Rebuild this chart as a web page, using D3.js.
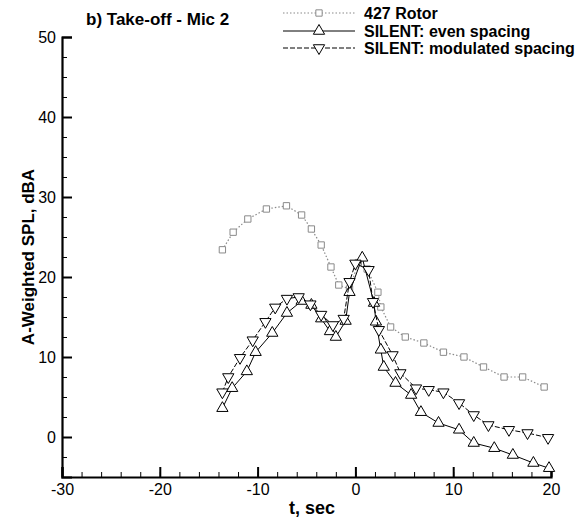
<!DOCTYPE html>
<html>
<head>
<meta charset="utf-8">
<script src="https://cdn.jsdelivr.net/npm/d3@7"></script>
<style>
  body { margin: 0; background: white; }
  text { font-family: "Liberation Sans", Arial, Helvetica, sans-serif; }
</style>
</head>
<body>
<div id="chart"></div>
<script>
// values
let rotorT = [-13.6, -12.5, -11.0, -9.1, -7.05, -5.5, -4.5, -3.5, -2.5, -1.7, -0.6, 0.3, 1.2, 2.3, 2.6, 3.6, 5.1, 7.0, 9.0, 11.1, 13.1, 15.2, 17.1, 19.3];
let rotorV = [23.4, 25.6, 27.25, 28.5, 28.9, 27.75, 26.0, 24.0, 21.25, 19.0, 18.5, 21.8, 21.0, 18.1, 16.25, 13.75, 12.5, 11.75, 10.6, 10.0, 8.75, 7.5, 7.5, 6.25];

let evenT = [-13.6, -12.6, -11.1, -10.2, -8.5, -7.0, -5.5, -4.5, -3.5, -2.6, -2.0, -1.0, -0.6, 0.7, 1.9, 2.1, 2.6, 2.9, 4.1, 5.7, 6.7, 8.5, 10.6, 12.1, 14.2, 16.1, 18.2, 19.8];
let evenV = [3.6, 6.1, 8.2, 10.6, 13.0, 15.5, 17.0, 16.5, 14.8, 13.2, 12.5, 14.5, 18.1, 22.4, 16.75, 14.4, 10.9, 8.75, 6.75, 5.25, 3.1, 1.75, 0.9, -0.75, -1.4, -2.25, -3.25, -3.9];

let modT = [-13.6, -13.0, -11.8, -10.5, -9.2, -8.2, -7.0, -5.8, -4.6, -3.5, -2.3, -1.2, -0.6, 0.0, 1.35, 1.8, 2.4, 3.8, 4.6, 6.2, 7.5, 9.0, 10.6, 12.1, 13.6, 15.7, 17.6, 19.7];
let modV = [5.6, 7.5, 9.9, 12.1, 14.4, 16.2, 17.3, 17.5, 16.6, 15.3, 14.0, 14.8, 19.4, 21.7, 20.9, 16.9, 13.4, 10.25, 8.0, 6.1, 5.9, 5.6, 4.25, 2.75, 1.5, 0.9, 0.5, -0.1];

let xTicks = [-30, -20, -10, 0, 10, 20];
let yTicks = [0, 10, 20, 30, 40, 50];
let seriesNames = ["427 Rotor", "SILENT: even spacing", "SILENT: modulated spacing"];

let W = 581, H = 519;
let svg = d3.select('#chart').append('svg')
  .attr('width', W).attr('height', H)
  .style('background-color', 'white');

let x = d3.scaleLinear().domain([-30, 20]).range([62, 551]);
let y = d3.scaleLinear().domain([-5, 50]).range([477, 37]);

// minor ticks
svg.append('g')
  .attr('transform', 'translate(0,' + y(-5) + ')')
  .call(d3.axisBottom(x).tickValues(d3.range(-30, 20.1, 2)).tickSize(-5).tickFormat(''))
  .call(g => g.select('.domain').remove());
svg.append('g')
  .attr('transform', 'translate(' + x(-30) + ',0)')
  .call(d3.axisLeft(y).tickValues(d3.range(-5, 50.1, 2.5)).tickSize(-5).tickFormat(''))
  .call(g => g.select('.domain').remove());

// major ticks + labels
let xAxis = svg.append('g')
  .attr('transform', 'translate(0,' + y(-5) + ')')
  .call(d3.axisBottom(x).tickValues(xTicks).tickSize(-10).tickPadding(7).tickFormat(String));
let yAxis = svg.append('g')
  .attr('transform', 'translate(' + x(-30) + ',0)')
  .call(d3.axisLeft(y).tickValues(yTicks).tickSize(-10).tickPadding(6).tickFormat(String));

[xAxis, yAxis].forEach(function(a) {
  a.select('.domain').attr('stroke-width', 2.2).attr('stroke', '#000');
  a.selectAll('.tick line').attr('stroke-width', 2);
  a.selectAll('.tick text').attr('font-size', 16).attr('fill', '#000')
    .style('font-family', '"Liberation Sans", Arial, sans-serif');
});

// axis titles
svg.append('text')
  .attr('x', 312).attr('y', 514)
  .attr('text-anchor', 'middle')
  .attr('font-size', 18).attr('font-weight', 'bold')
  .text('t, sec');
svg.append('text')
  .attr('transform', 'translate(34,' + 257 + ') rotate(-90)')
  .attr('text-anchor', 'middle')
  .attr('font-size', 17).attr('font-weight', 'bold')
  .text('A-Weighted SPL, dBA');

svg.append('text')
  .attr('x', 86).attr('y', 25)
  .attr('font-size', 17).attr('font-weight', 'bold')
  .text('b) Take-off - Mic 2');

let styles = [
  {t: rotorT, v: rotorV, color: '#8a8a8a', dash: '1.5,2', width: 1.2, sym: d3.symbolSquare, size: 40, rot: 0},
  {t: evenT, v: evenV, color: '#000', dash: null, width: 1, sym: d3.symbolTriangle, size: 55, rot: 0},
  {t: modT, v: modV, color: '#000', dash: '5,2', width: 1, sym: d3.symbolTriangle, size: 55, rot: 180}
];

let line = d3.line().x(d => x(d[0])).y(d => y(d[1]));

styles.forEach(function(s) {
  let pts = s.t.map((t, i) => [t, s.v[i]]);
  svg.append('path')
    .datum(pts)
    .attr('d', line)
    .attr('fill', 'none')
    .attr('stroke', s.color)
    .attr('stroke-width', s.width)
    .attr('stroke-dasharray', s.dash);
  svg.selectAll(null)
    .data(pts)
    .enter().append('path')
    .attr('d', d3.symbol().type(s.sym).size(s.size))
    .attr('transform', d => 'translate(' + x(d[0]) + ',' + y(d[1]) + ') rotate(' + s.rot + ')')
    .attr('fill', 'white')
    .attr('stroke', s.color)
    .attr('stroke-width', 1);
});

// legend
let legY = [13, 31, 48];
styles.forEach(function(s, i) {
  let g = svg.append('g').attr('transform', 'translate(0,' + legY[i] + ')');
  g.append('line')
    .attr('x1', 283).attr('x2', 355).attr('y1', 0).attr('y2', 0)
    .attr('stroke', s.color).attr('stroke-width', s.width)
    .attr('stroke-dasharray', s.dash);
  g.append('path')
    .attr('d', d3.symbol().type(s.sym).size(s.size))
    .attr('transform', 'translate(319,0) rotate(' + s.rot + ')')
    .attr('fill', 'white').attr('stroke', s.color);
  g.append('text')
    .attr('x', 364).attr('y', 5.5)
    .attr('font-size', 16).attr('font-weight', 'bold')
    .text(seriesNames[i]);
});
</script>
</body>
</html>
